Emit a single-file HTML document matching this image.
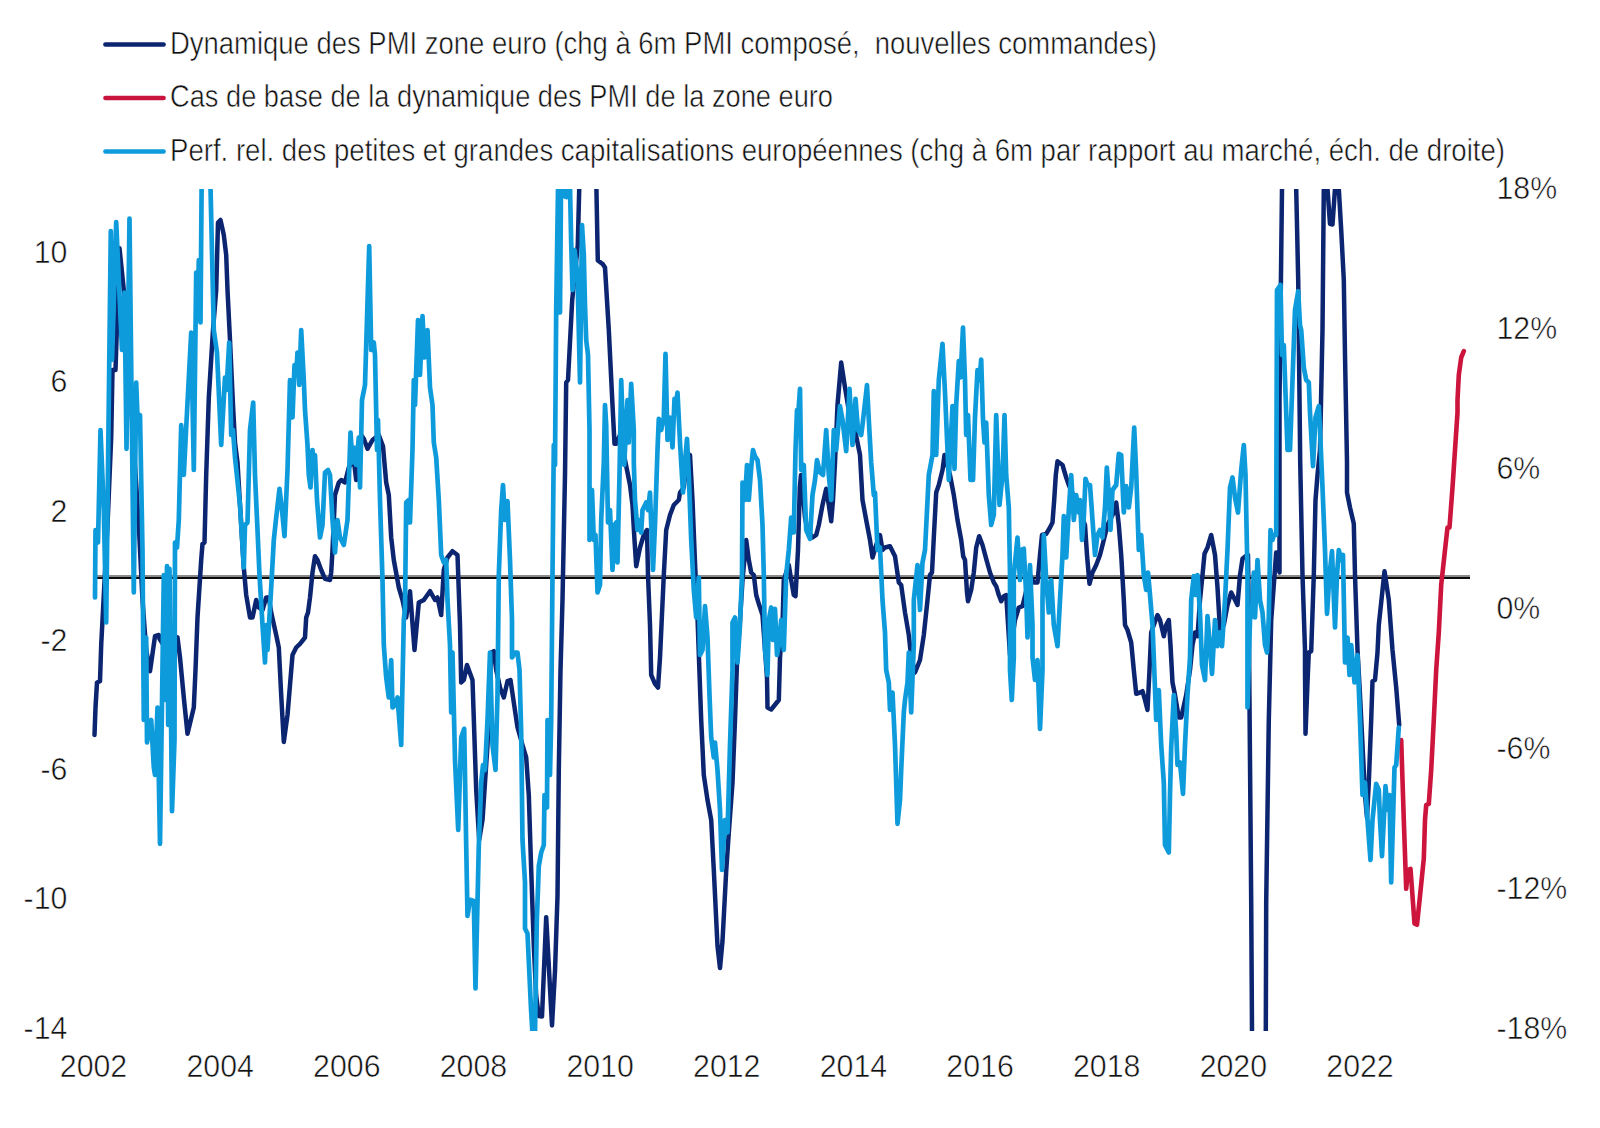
<!DOCTYPE html>
<html><head><meta charset="utf-8"><title>PMI zone euro</title>
<style>
html,body{margin:0;padding:0;background:#fff;}
body{width:1600px;height:1128px;overflow:hidden;position:relative;font-family:"Liberation Sans",sans-serif;color:#000;}
svg{position:absolute;left:0;top:0;}
text{font-family:"Liberation Sans",sans-serif;fill:#111;stroke:#fff;stroke-width:0.55px;paint-order:fill stroke;}
</style></head><body>
<svg width="1600" height="1128" viewBox="0 0 1600 1128">
<defs><clipPath id="plot"><rect x="80" y="189" width="1400" height="842"/></clipPath></defs>
<!-- legend -->
<line x1="105.4" y1="44.4" x2="163.6" y2="44.4" stroke="#0b2571" stroke-width="4.5" stroke-linecap="round"/>
<line x1="105.4" y1="97.9" x2="163.6" y2="97.9" stroke="#c8143c" stroke-width="4.5" stroke-linecap="round"/>
<line x1="105.4" y1="151.4" x2="163.6" y2="151.4" stroke="#0e9bdc" stroke-width="4.5" stroke-linecap="round"/>
<text id="l1" xml:space="preserve" style="white-space:pre" x="170" y="53.5" font-size="31" textLength="987" lengthAdjust="spacingAndGlyphs">Dynamique des PMI zone euro (chg à 6m PMI composé,  nouvelles commandes)</text>
<text id="l2" x="170" y="107" font-size="31" textLength="663" lengthAdjust="spacingAndGlyphs">Cas de base de la dynamique des PMI de la zone euro</text>
<text id="l3" x="170" y="160.5" font-size="31" textLength="1335" lengthAdjust="spacingAndGlyphs">Perf. rel. des petites et grandes capitalisations européennes (chg à 6m par rapport au marché, éch. de droite)</text>
<!-- zero line -->
<line x1="96" y1="576" x2="1470" y2="576" stroke="#8c8c8c" stroke-width="2"/>
<line x1="96" y1="578" x2="1470" y2="578" stroke="#0a0a0a" stroke-width="2.2"/>
<!-- series -->
<g clip-path="url(#plot)" fill="none" stroke-linejoin="round" stroke-linecap="round">
<polyline stroke="#0b2571" stroke-width="4.5" points="94.5,735.0 95.5,707.5 97.0,682.5 100.0,681.2 101.2,645.0 103.8,595.0 107.5,525.0 111.2,437.5 112.5,370.0 115.5,370.0 119.5,248.2 123.8,290.0 129.0,370.0 134.0,450.0 138.8,525.0 142.5,600.0 146.2,650.0 150.0,671.2 155.0,636.2 158.8,635.0 159.5,638.8 165.0,647.5 171.2,642.5 177.5,637.5 180.0,657.5 183.8,697.5 187.5,733.8 193.8,707.5 195.5,670.0 197.5,617.5 201.2,560.0 202.5,543.8 204.5,542.5 206.2,475.0 208.8,397.5 213.0,330.0 216.2,290.0 218.0,222.5 220.5,220.0 223.8,235.0 226.2,255.0 227.5,290.0 230.0,340.0 233.0,405.0 235.0,442.5 237.5,462.5 241.2,525.0 243.8,567.5 246.2,595.0 250.0,617.5 252.5,617.5 256.2,600.0 258.8,607.5 262.5,610.0 266.2,597.5 268.8,597.5 271.2,612.5 276.2,635.0 278.8,647.5 281.2,695.0 283.8,742.0 287.5,715.0 292.5,655.0 296.2,647.5 300.0,643.8 305.0,637.5 306.2,617.5 308.0,612.5 310.0,597.5 312.5,572.5 315.0,556.2 317.5,560.0 321.2,570.0 325.0,578.8 330.0,580.0 331.2,572.5 332.5,550.0 335.0,495.0 338.8,482.5 341.2,480.0 345.0,482.5 348.8,467.5 353.8,460.0 356.2,480.0 361.2,435.0 363.8,438.8 367.5,448.8 372.5,440.0 378.8,435.0 383.0,446.2 386.2,482.5 388.8,495.0 391.2,537.5 393.8,560.0 398.8,587.5 402.5,600.0 406.2,617.5 410.0,591.2 414.5,650.0 418.8,602.5 423.8,600.0 430.0,591.2 435.0,600.0 437.5,597.5 441.2,615.0 443.8,570.0 447.5,557.5 452.5,551.2 457.5,555.0 460.0,625.0 461.2,682.5 463.8,680.0 467.0,665.0 472.5,680.0 476.2,790.0 479.2,840.0 482.5,820.0 485.0,782.5 487.5,745.0 491.2,652.5 493.8,651.2 496.2,670.0 500.0,687.5 503.8,697.5 507.5,681.2 510.5,680.0 513.8,702.5 517.5,727.5 522.5,745.0 526.2,757.5 528.8,795.0 531.2,870.0 533.8,946.0 536.2,996.0 538.8,1016.0 542.0,1016.5 546.2,917.2 552.0,1025.5 555.0,971.0 557.5,896.0 558.8,770.0 560.5,670.0 562.5,600.0 565.0,475.0 566.2,382.5 568.0,380.0 572.2,300.0 577.8,245.0 589.0,-195.0 597.8,260.5 602.5,263.8 605.0,267.5 608.8,330.0 612.5,405.0 614.5,443.8 616.2,443.8 620.0,435.0 625.0,460.0 630.0,485.0 632.5,505.0 634.5,540.0 636.2,566.2 640.0,547.5 643.8,535.0 647.0,530.0 648.0,575.0 650.0,625.0 651.2,675.0 655.0,683.8 658.0,687.5 660.0,657.5 663.8,575.0 666.2,530.0 670.0,515.0 673.8,505.0 678.8,500.0 680.0,492.5 683.8,487.5 687.5,453.8 690.0,455.0 692.5,500.0 695.0,562.5 697.5,617.5 701.2,720.0 703.8,775.0 707.5,800.0 711.2,820.0 713.8,870.0 717.5,946.0 720.0,968.0 722.5,941.0 726.2,871.0 728.8,832.5 732.5,782.5 735.0,720.0 737.0,662.5 740.0,620.0 742.5,580.0 746.2,540.0 748.8,560.0 751.2,572.5 753.8,575.0 756.2,595.0 758.8,603.8 762.5,615.0 767.0,677.5 767.5,707.5 771.2,709.5 778.8,700.0 780.0,657.5 782.5,625.0 783.8,580.0 786.2,572.5 788.8,565.0 791.2,580.0 793.8,595.0 795.5,596.2 798.0,550.0 799.8,487.5 801.0,475.0 803.0,495.0 805.0,517.5 807.5,530.0 812.5,537.5 816.2,535.0 818.8,525.0 822.5,505.0 826.2,488.8 828.8,505.0 831.2,521.2 833.0,500.0 835.0,462.5 837.5,405.0 841.2,362.5 845.0,387.5 850.0,417.5 855.0,430.0 860.0,455.0 862.5,500.0 866.2,520.0 870.0,540.0 872.5,557.5 876.2,545.0 880.0,535.0 882.5,550.0 885.0,547.5 890.0,546.2 895.0,556.2 898.8,582.5 901.2,585.0 905.0,612.5 908.8,635.0 911.2,657.5 915.0,672.5 920.0,660.0 923.8,635.0 927.5,600.0 930.0,575.0 932.0,572.5 933.8,537.5 936.2,492.5 938.8,485.0 942.5,470.0 944.5,455.0 950.0,475.0 953.8,495.0 957.5,520.0 961.2,540.0 963.2,556.2 965.0,560.0 967.0,592.5 968.0,601.2 971.2,590.0 973.8,572.5 976.2,547.5 979.2,536.2 982.5,545.0 986.2,558.8 990.0,572.5 993.8,582.5 996.2,586.2 998.8,595.0 1001.2,601.2 1003.8,596.2 1006.2,595.0 1010.0,655.0 1015.0,620.0 1018.8,607.5 1022.5,606.2 1030.0,575.0 1033.8,582.5 1037.5,582.5 1040.0,555.0 1042.0,535.0 1046.2,533.8 1050.0,527.5 1052.5,522.5 1054.2,500.0 1055.8,475.0 1057.5,461.2 1062.5,465.0 1066.2,477.5 1068.8,485.0 1077.5,505.0 1085.0,525.0 1087.0,555.0 1089.5,583.8 1092.5,572.5 1096.2,565.0 1100.0,555.0 1103.8,540.0 1107.5,525.0 1111.2,517.5 1113.8,512.5 1116.2,502.5 1118.8,525.0 1121.2,555.0 1123.8,600.0 1125.0,625.0 1127.5,630.0 1131.2,642.5 1133.8,670.0 1136.2,693.8 1140.0,692.5 1142.5,691.2 1145.0,700.0 1147.5,710.0 1149.5,670.0 1151.2,632.5 1153.8,625.0 1157.5,615.0 1160.0,620.0 1163.8,636.2 1166.2,625.0 1168.8,620.0 1170.5,645.0 1172.5,682.5 1175.0,695.0 1178.8,717.5 1181.2,717.5 1186.2,695.0 1190.0,670.0 1192.5,645.0 1195.0,632.5 1197.5,636.2 1200.0,600.0 1202.5,575.0 1204.5,553.8 1207.5,547.5 1211.2,535.0 1215.0,555.0 1217.5,587.5 1220.0,630.0 1223.8,625.0 1227.5,605.0 1231.2,592.5 1233.8,597.5 1237.5,605.0 1240.0,575.0 1242.5,558.8 1245.5,556.2 1248.0,555.0 1248.8,620.0 1251.2,902.0 1252.0,1031.0 1255.0,1446.0 1262.5,1446.0 1265.8,1031.0 1266.2,902.0 1268.8,720.0 1271.2,620.0 1276.2,552.5 1279.5,572.5 1279.5,400.0 1282.0,188.8 1283.8,-195.0 1293.0,-195.0 1296.2,188.8 1298.2,280.0 1300.2,462.0 1302.5,575.0 1305.0,650.0 1305.0,670.0 1305.5,733.8 1307.5,682.5 1308.8,652.5 1311.2,651.2 1313.8,575.0 1315.5,500.0 1317.5,475.0 1320.0,450.0 1322.5,330.0 1323.8,188.8 1325.5,130.0 1327.5,188.8 1330.0,223.8 1332.5,224.5 1335.0,188.8 1336.8,142.5 1338.8,188.8 1341.2,230.0 1343.8,280.0 1345.0,355.0 1347.0,462.0 1347.0,492.5 1350.0,507.5 1353.8,523.8 1355.0,575.0 1357.5,650.0 1360.0,695.0 1362.5,745.0 1365.0,795.0 1367.0,817.5 1368.8,782.5 1371.2,720.0 1372.5,681.2 1375.0,680.0 1377.5,652.5 1378.8,625.0 1384.5,571.2 1388.8,600.0 1392.5,650.0 1396.2,687.5 1399.2,725.0"/>
<polyline stroke="#cc143c" stroke-width="4.6" points="1401.2,740.0 1403.8,820.0 1406.2,888.8 1408.0,870.0 1410.5,868.8 1412.5,896.0 1414.5,923.5 1417.0,924.8 1420.0,896.0 1423.8,858.5 1425.0,820.0 1426.2,805.0 1428.8,803.8 1431.2,770.0 1433.8,720.0 1436.2,670.0 1438.8,632.5 1441.2,585.0 1445.0,550.0 1447.5,527.5 1449.5,527.5 1452.5,487.5 1455.0,450.0 1457.5,412.5 1457.5,400.0 1458.8,375.0 1461.2,357.5 1463.8,351.2"/>
<polyline stroke="#0e9bdc" stroke-width="4.7" points="95.0,597.5 95.5,530.0 98.0,542.5 100.5,430.0 103.8,510.0 106.2,622.5 110.8,231.2 112.0,360.0 116.2,222.2 122.0,350.0 124.5,292.5 126.5,448.8 129.5,218.5 133.8,592.5 136.2,382.5 138.0,430.0 140.0,415.0 142.5,550.0 143.8,720.0 146.2,637.5 147.0,742.5 151.2,720.0 153.8,767.5 155.0,775.0 157.5,707.5 160.0,843.8 163.8,575.0 165.5,700.0 167.0,566.2 168.2,725.0 169.5,568.8 172.0,811.2 174.5,740.0 175.0,542.5 177.0,547.5 178.8,520.0 181.2,425.0 183.8,475.0 186.2,427.5 191.2,332.5 193.8,470.0 196.2,272.5 197.5,320.0 198.8,260.0 200.5,322.5 201.8,165.0 210.0,165.0 213.8,330.0 217.0,352.5 221.2,445.0 225.0,377.5 226.5,390.0 229.2,342.5 231.2,435.0 233.0,430.0 235.0,457.5 240.0,505.0 243.8,567.5 245.0,525.0 247.5,522.5 250.0,430.0 253.2,402.5 255.0,475.0 257.5,530.0 259.5,575.0 262.5,625.0 265.0,662.5 266.2,625.0 267.5,650.0 271.2,587.5 273.8,540.0 276.2,517.5 279.5,488.8 282.0,510.0 284.5,536.2 287.5,470.0 290.0,380.0 292.5,417.5 294.5,365.0 296.2,375.0 297.5,352.5 299.2,385.0 301.2,330.0 303.8,380.0 305.0,410.0 307.5,445.0 308.8,475.0 310.5,487.5 312.5,450.0 313.8,472.5 315.0,455.0 317.0,500.0 320.0,537.5 322.5,525.0 325.0,472.5 328.0,470.0 330.0,475.0 332.5,520.0 335.0,552.5 337.5,520.0 340.0,537.5 343.8,545.0 347.5,520.0 350.5,432.5 352.5,462.5 353.8,447.5 356.2,465.0 358.8,437.5 360.0,487.5 362.0,400.0 365.0,385.0 369.2,246.2 371.2,350.0 373.8,342.5 375.0,355.0 377.0,450.0 378.0,420.0 380.0,500.0 382.5,580.0 383.8,645.0 386.2,677.5 388.8,697.5 391.2,660.0 392.5,707.5 395.0,705.0 397.5,697.5 401.2,745.0 403.8,620.0 405.0,607.5 406.2,502.5 408.8,500.0 410.0,522.5 412.5,450.0 413.8,380.0 415.0,405.0 418.0,320.0 420.0,375.0 422.5,316.2 424.5,357.5 427.5,330.0 430.0,387.5 432.5,405.0 433.8,442.5 436.2,457.5 438.8,500.0 441.2,555.0 443.8,562.5 446.2,560.0 447.5,600.0 450.0,645.0 451.2,712.5 452.5,652.5 455.0,760.0 458.2,830.0 461.2,737.5 464.2,728.8 466.2,845.0 467.5,916.0 470.0,899.8 473.8,901.0 475.5,988.5 478.8,846.0 481.2,782.5 483.0,765.0 485.0,770.0 487.5,720.0 490.0,652.5 492.5,745.0 495.5,770.0 497.5,695.0 498.8,575.0 501.2,510.0 503.0,485.0 505.0,520.0 507.5,501.2 510.0,560.0 512.0,620.0 512.0,657.5 515.0,652.5 517.5,652.5 519.5,670.0 521.2,732.5 522.5,840.0 525.0,882.5 525.0,928.5 527.5,933.5 531.0,1008.5 533.2,1046.0 534.8,1046.0 536.8,921.0 538.8,866.0 541.2,852.5 543.8,845.0 544.5,795.0 547.0,807.5 547.5,720.0 550.0,775.0 551.2,720.0 552.5,575.0 553.8,445.0 555.0,465.0 556.2,310.0 558.0,190.0 560.0,312.5 561.2,165.0 564.0,180.0 565.0,196.5 566.5,197.0 568.0,180.0 569.0,165.0 570.0,187.5 571.2,242.5 572.5,290.0 574.5,250.0 577.5,275.0 580.0,382.5 582.0,225.0 583.8,255.0 585.0,305.0 586.2,340.0 588.0,355.0 589.5,430.0 589.5,540.0 592.0,490.0 593.8,540.0 595.5,535.0 597.5,592.5 600.0,585.0 601.2,520.0 603.8,462.5 605.0,405.0 606.2,425.0 608.0,522.5 610.0,510.0 612.5,570.0 614.5,525.0 616.2,522.5 617.5,562.5 619.5,475.0 621.2,380.0 624.2,465.0 627.5,400.0 628.8,442.5 631.2,383.8 633.8,430.0 633.8,462.5 635.0,500.0 637.5,530.0 638.8,520.0 641.2,532.5 642.5,510.0 646.2,502.5 648.0,510.0 650.0,492.5 651.2,525.0 653.0,570.0 655.0,525.0 657.5,450.0 658.8,418.8 661.2,430.0 663.8,417.5 665.5,353.8 667.5,440.0 670.0,417.5 672.5,447.5 674.5,398.8 675.8,405.0 677.5,392.5 680.0,442.5 681.2,462.5 683.0,492.5 685.0,462.5 687.0,438.8 688.8,475.0 691.2,540.0 693.8,590.0 696.2,617.5 698.8,577.5 700.0,655.0 702.5,650.0 705.0,606.2 707.5,637.5 709.5,695.0 711.2,737.5 713.8,757.5 715.0,742.5 717.5,770.0 720.0,810.0 722.0,870.0 725.0,820.0 727.5,832.5 730.0,745.0 732.5,670.0 732.5,622.5 735.0,617.5 737.5,662.5 740.0,625.0 742.0,575.0 742.5,482.5 745.0,500.0 747.0,465.0 748.8,500.0 751.2,467.5 753.0,450.0 755.0,456.2 757.5,460.0 760.0,480.0 762.5,525.0 763.8,575.0 765.0,650.0 767.5,675.0 768.8,620.0 771.2,607.5 773.0,640.0 775.0,608.8 777.0,655.0 778.8,645.0 781.2,620.0 783.8,650.0 786.2,575.0 788.8,550.0 791.2,517.5 793.8,532.5 795.5,450.0 797.0,410.0 798.0,417.5 800.0,388.8 801.2,470.0 803.8,465.0 806.2,530.0 810.0,538.8 812.5,495.0 815.0,480.0 817.0,460.0 820.0,472.5 823.0,475.0 826.2,430.0 828.8,475.0 831.2,500.0 833.8,430.0 836.2,450.0 840.0,406.2 842.5,420.0 846.2,451.2 849.5,388.8 852.5,445.0 855.5,398.8 858.0,430.0 861.2,435.0 862.5,425.0 867.0,385.0 868.8,420.0 871.2,462.5 873.8,495.0 875.0,492.5 877.5,550.0 880.0,547.5 882.5,600.0 885.0,632.5 886.2,670.0 888.8,682.5 890.0,710.0 892.5,692.5 895.0,745.0 897.5,823.8 900.0,800.0 901.2,770.0 903.8,712.5 905.0,700.0 907.5,682.5 908.8,652.5 911.2,712.5 913.8,645.0 913.8,600.0 917.5,565.0 920.0,610.0 922.5,562.5 925.0,550.0 928.8,475.0 932.5,455.0 933.8,391.2 936.2,455.0 938.8,380.0 942.5,343.8 945.0,392.5 948.8,480.0 952.5,406.2 954.5,468.8 956.2,405.0 958.8,361.2 960.5,377.5 963.0,327.5 965.0,380.0 966.2,435.0 968.0,415.0 970.5,480.0 973.0,480.0 975.0,417.5 977.5,370.0 979.5,380.0 981.2,359.5 983.0,420.0 984.5,442.5 986.2,422.5 988.8,495.0 991.2,525.0 993.8,515.0 996.2,415.0 999.5,505.0 1002.5,475.0 1004.5,415.0 1006.2,475.0 1008.8,507.5 1010.0,575.0 1010.0,670.0 1011.8,700.0 1013.8,657.5 1013.8,575.0 1017.5,537.5 1020.0,580.0 1021.2,550.0 1023.8,548.8 1026.2,595.0 1027.5,637.5 1030.0,565.0 1032.5,625.0 1032.5,657.5 1035.0,680.0 1037.5,660.0 1040.0,728.8 1042.5,670.0 1042.5,600.0 1043.8,535.0 1046.2,580.0 1048.8,612.5 1051.2,580.0 1053.8,625.0 1057.5,646.2 1060.0,600.0 1062.5,555.0 1063.8,516.2 1066.2,557.5 1068.8,510.0 1071.2,475.0 1073.8,520.0 1076.2,495.0 1078.8,512.5 1080.0,500.0 1082.0,540.0 1083.8,517.5 1085.5,478.8 1087.5,485.0 1090.0,485.0 1092.5,520.0 1095.0,555.0 1097.5,535.0 1100.0,530.0 1102.5,537.5 1105.0,507.5 1106.8,467.5 1108.8,495.0 1110.5,530.0 1112.5,490.0 1116.2,485.0 1118.8,453.8 1121.2,455.0 1123.8,512.5 1126.2,486.2 1128.8,507.5 1131.2,487.5 1134.2,427.5 1136.2,472.5 1138.8,550.0 1141.2,535.0 1143.8,575.0 1146.2,590.0 1148.0,572.5 1150.0,595.0 1152.5,625.0 1153.8,657.5 1156.2,720.0 1158.8,690.0 1161.2,745.0 1163.8,782.5 1165.0,845.0 1168.8,852.5 1170.0,795.0 1171.2,747.5 1173.8,695.0 1176.2,732.5 1177.5,765.0 1180.0,762.5 1183.0,793.8 1185.0,745.0 1187.5,695.0 1190.0,657.5 1191.2,600.0 1193.8,576.2 1195.5,595.0 1197.5,575.0 1200.0,612.5 1202.0,665.0 1205.0,680.0 1207.5,616.2 1212.0,673.8 1215.0,620.0 1217.5,646.2 1220.0,632.5 1222.0,646.2 1225.0,600.0 1227.5,550.0 1230.0,487.5 1232.5,477.5 1235.0,497.5 1238.0,512.5 1241.2,470.0 1243.8,445.0 1245.5,475.0 1247.5,575.0 1247.5,707.5 1250.0,620.0 1252.0,612.5 1253.8,572.5 1255.0,617.5 1257.5,560.0 1260.0,600.0 1262.5,612.5 1265.0,645.0 1267.0,652.5 1268.8,617.5 1270.5,530.0 1272.5,540.0 1273.8,535.0 1276.2,535.0 1277.0,290.0 1280.5,285.0 1282.0,355.0 1283.8,345.0 1286.2,412.5 1287.5,450.0 1290.0,450.0 1292.5,380.0 1295.0,310.0 1298.2,291.2 1300.0,325.0 1301.2,330.0 1303.8,367.5 1306.2,380.0 1308.8,382.5 1310.0,412.5 1313.0,466.2 1315.5,417.5 1318.8,406.2 1320.0,430.0 1322.5,487.5 1325.0,550.0 1327.0,613.8 1329.5,575.0 1332.0,551.2 1335.0,627.5 1337.0,575.0 1338.8,550.0 1341.2,560.0 1343.0,555.0 1345.0,662.5 1347.5,637.5 1349.5,675.0 1351.2,645.0 1354.5,682.5 1357.5,655.0 1360.0,720.0 1362.5,795.0 1365.0,782.5 1367.5,820.0 1370.5,860.0 1372.5,820.0 1374.5,800.0 1376.2,783.8 1378.8,790.0 1380.0,820.0 1382.0,856.2 1383.8,820.0 1385.5,786.2 1387.5,810.0 1389.5,795.0 1391.2,882.5 1393.0,820.0 1394.5,767.5 1396.2,765.0 1398.8,727.5"/>
</g>
<!-- left axis -->
<text transform="translate(67.40,263.00) scale(0.962,1)" font-size="31.5" text-anchor="end">10</text>
<text transform="translate(67.40,392.25) scale(0.962,1)" font-size="31.5" text-anchor="end">6</text>
<text transform="translate(67.40,521.50) scale(0.962,1)" font-size="31.5" text-anchor="end">2</text>
<text transform="translate(67.40,650.75) scale(0.962,1)" font-size="31.5" text-anchor="end">-2</text>
<text transform="translate(67.40,780.00) scale(0.962,1)" font-size="31.5" text-anchor="end">-6</text>
<text transform="translate(67.40,909.25) scale(0.962,1)" font-size="31.5" text-anchor="end">-10</text>
<text transform="translate(67.40,1038.50) scale(0.962,1)" font-size="31.5" text-anchor="end">-14</text>
<!-- right axis -->
<text transform="translate(1496.50,198.60) scale(0.962,1)" font-size="31.5" text-anchor="start">18%</text>
<text transform="translate(1496.50,338.60) scale(0.962,1)" font-size="31.5" text-anchor="start">12%</text>
<text transform="translate(1496.50,478.60) scale(0.962,1)" font-size="31.5" text-anchor="start">6%</text>
<text transform="translate(1496.50,618.60) scale(0.962,1)" font-size="31.5" text-anchor="start">0%</text>
<text transform="translate(1496.50,758.60) scale(0.962,1)" font-size="31.5" text-anchor="start">-6%</text>
<text transform="translate(1496.50,898.60) scale(0.962,1)" font-size="31.5" text-anchor="start">-12%</text>
<text transform="translate(1496.50,1038.60) scale(0.962,1)" font-size="31.5" text-anchor="start">-18%</text>
<!-- x axis -->
<text transform="translate(93.50,1077.00) scale(0.962,1)" font-size="31.5" text-anchor="middle">2002</text>
<text transform="translate(220.15,1077.00) scale(0.962,1)" font-size="31.5" text-anchor="middle">2004</text>
<text transform="translate(346.80,1077.00) scale(0.962,1)" font-size="31.5" text-anchor="middle">2006</text>
<text transform="translate(473.45,1077.00) scale(0.962,1)" font-size="31.5" text-anchor="middle">2008</text>
<text transform="translate(600.10,1077.00) scale(0.962,1)" font-size="31.5" text-anchor="middle">2010</text>
<text transform="translate(726.75,1077.00) scale(0.962,1)" font-size="31.5" text-anchor="middle">2012</text>
<text transform="translate(853.40,1077.00) scale(0.962,1)" font-size="31.5" text-anchor="middle">2014</text>
<text transform="translate(980.05,1077.00) scale(0.962,1)" font-size="31.5" text-anchor="middle">2016</text>
<text transform="translate(1106.70,1077.00) scale(0.962,1)" font-size="31.5" text-anchor="middle">2018</text>
<text transform="translate(1233.35,1077.00) scale(0.962,1)" font-size="31.5" text-anchor="middle">2020</text>
<text transform="translate(1360.00,1077.00) scale(0.962,1)" font-size="31.5" text-anchor="middle">2022</text>
</svg>
</body></html>
